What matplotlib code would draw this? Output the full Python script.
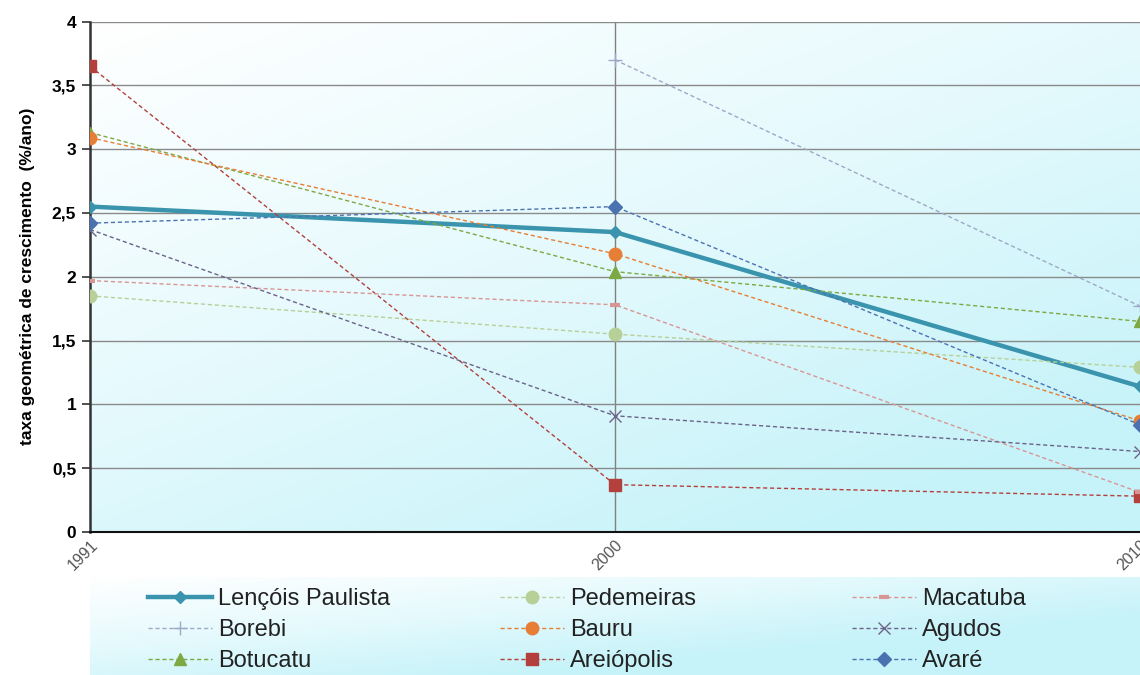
import numpy as np
import matplotlib
matplotlib.use("Agg")
import matplotlib.pyplot as plt
from matplotlib.colors import LinearSegmentedColormap
from matplotlib.ticker import FuncFormatter

anos = ["1991", "2000", "2010"]

lencois = [2.55, 2.35, 1.14]
pederneiras = [1.85, 1.55, 1.29]
macatuba = [1.97, 1.78, 0.31]
borebi = [np.nan, 3.70, 1.77]
bauru = [3.09, 2.18, 0.87]
agudos = [2.37, 0.91, 0.63]
botucatu = [3.13, 2.04, 1.65]
areiopolis = [3.65, 0.37, 0.28]
avare = [2.42, 2.55, 0.84]

plt.rcParams['font.family'] = ['Liberation Sans', 'DejaVu Sans']

fig = plt.figure(figsize=(11.4, 6.75), dpi=100)
ax = fig.add_axes([0.079, 0.212, 0.921, 0.756])

# fundo em degradê (branco -> ciano claro)
cmap = LinearSegmentedColormap.from_list("bg", ["#ffffff", "#e6fafd", "#c6f3f9"])
gx, gy = np.meshgrid(np.linspace(0, 1, 200), np.linspace(0, 1, 200))
grad = np.clip(0.5 * gx + 0.65 * gy, 0, 1)
ax.imshow(grad, cmap=cmap, extent=[0, 1, 0, 1], transform=ax.transAxes,
          aspect="auto", zorder=0, origin="upper")

x = np.arange(len(anos))
dash = (0, (3, 2))

series = [
    ("Lençóis Paulista", lencois, dict(color="#3a94ad", lw=3.2, ls="-", marker="D", ms=6)),
    ("Borebi", borebi, dict(color="#9ea8c6", lw=1, ls=dash, marker="+", ms=10, mew=1)),
    ("Botucatu", botucatu, dict(color="#7ea843", lw=1, ls=dash, marker="^", ms=9)),
    ("Pedemeiras", pederneiras, dict(color="#b7d097", lw=1, ls=dash, marker="o", ms=9)),
    ("Bauru", bauru, dict(color="#e67e35", lw=1, ls=dash, marker="o", ms=9)),
    ("Areiópolis", areiopolis, dict(color="#b3403d", lw=1, ls=dash, marker="s", ms=9)),
    ("Macatuba", macatuba, dict(color="#d99594", lw=1, ls=dash, marker="_", ms=7, mew=3)),
    ("Agudos", agudos, dict(color="#6b6389", lw=1, ls=dash, marker="x", ms=8, mew=1)),
    ("Avaré", avare, dict(color="#4b72b0", lw=1, ls=dash, marker="D", ms=7)),
]

handles = []
for nome, vals, st in series:
    h, = ax.plot(x, vals, label=nome, zorder=3, **st)
    handles.append(h)

ax.set_xlim(0, 2)
ax.set_ylim(0, 4)
ax.set_yticks(np.arange(0, 4.01, 0.5))
ax.yaxis.set_major_formatter(FuncFormatter(lambda v, p: ("%g" % v).replace(".", ",")))
ax.set_xticks(x)
ax.set_xticklabels(anos, rotation=45, ha="right", va="top", color="#555555", fontsize=11.5,
                   rotation_mode="anchor")
ax.tick_params(axis="y", labelsize=12.5, length=6, width=1.2, color="#333333", pad=4)
ax.tick_params(axis="x", length=0, pad=4)
for lab in ax.get_yticklabels():
    lab.set_fontweight("bold")

ax.grid(True, axis="y", color="#8a8a8a", lw=1, zorder=1)
ax.axvline(1, color="#808080", lw=1, zorder=1)

for s in ["top", "right"]:
    ax.spines[s].set_visible(False)
ax.spines["left"].set_color("#333333")
ax.spines["left"].set_linewidth(1.8)
ax.spines["bottom"].set_color("#111111")
ax.spines["bottom"].set_linewidth(1.5)

ax.set_ylabel("taxa geométrica de crescimento  (%/ano)", fontsize=12.5,
              fontweight="bold", labelpad=12)

# caixa da legenda com degradê
lax = fig.add_axes([0.079, 0.0, 0.921, 0.145])
lgx, lgy = np.meshgrid(np.linspace(0, 1, 200), np.linspace(0, 1, 200))
lgrad = np.clip(0.5 * lgx + 0.5 * lgy + 0.3, 0, 1)
lax.imshow(lgrad, cmap=cmap, extent=[0, 1, 0, 1], aspect="auto", origin="upper")
lax.set_xlim(0, 1)
lax.set_ylim(0, 1)
lax.set_axis_off()

# três colunas de legenda, cada uma ancorada no início do símbolo
col_x = [148, 500, 852]
for i, cx in enumerate(col_x):
    leg = fig.legend(handles=handles[3 * i:3 * i + 3], loc="upper left",
                     bbox_to_anchor=(cx / 1140, 1 - 588 / 675), frameon=False,
                     fontsize=17, handlelength=2.7, handletextpad=0.25,
                     labelspacing=0.38, borderpad=0, borderaxespad=0)
    for t in leg.get_texts():
        t.set_color("#222222")

fig.savefig("out.png", dpi=100)
